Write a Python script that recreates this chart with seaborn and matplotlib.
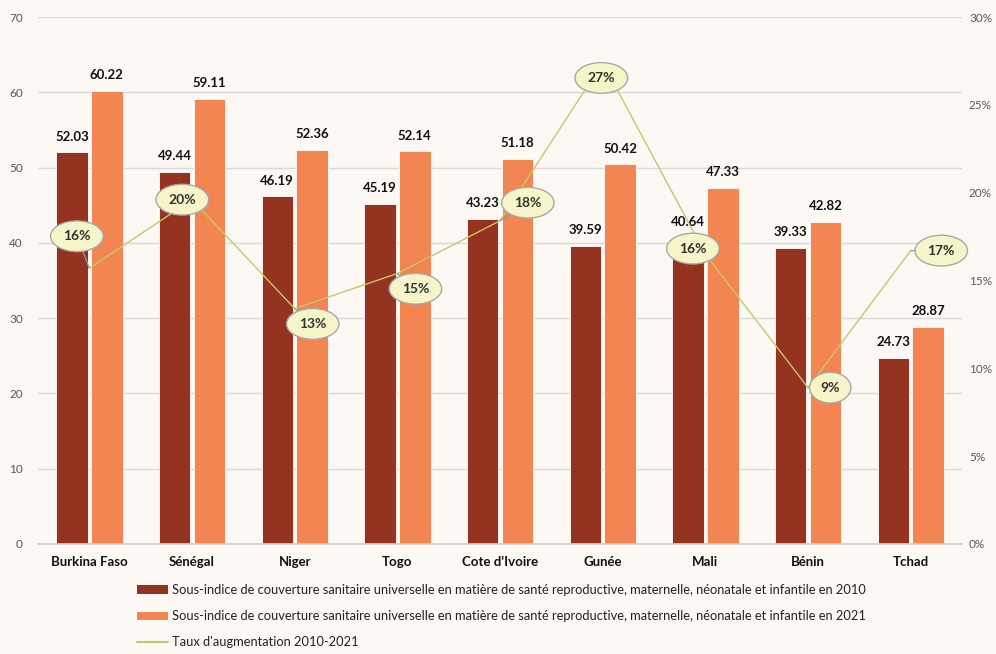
"""
Sous-indice de couverture sanitaire universelle (SRMNI), 2010 vs 2021,
avec le taux d'augmentation sur l'axe secondaire.
"""

import matplotlib
matplotlib.use("Agg")
import matplotlib.pyplot as plt
import numpy as np
import pandas as pd
import seaborn as sns
from matplotlib.lines import Line2D
from matplotlib.patches import Patch

COUNTRIES = ["Burkina Faso", "Sénégal", "Niger", "Togo", "Cote d'Ivoire",
             "Gunée", "Mali", "Bénin", "Tchad"]
VALUES_2010 = [52.03, 49.44, 46.19, 45.19, 43.23, 39.59, 40.64, 39.33, 24.73]
VALUES_2021 = [60.22, 59.11, 52.36, 52.14, 51.18, 50.42, 47.33, 42.82, 28.87]
GROWTH_PCT = [15.7, 19.6, 13.4, 15.4, 18.4, 27.4, 16.5, 8.9, 16.7]
GROWTH_LABELS = ["16%", "20%", "13%", "15%", "18%", "27%", "16%", "9%", "17%"]

LABEL_2010 = ("Sous-indice de couverture sanitaire universelle en matière de santé "
              "reproductive, maternelle, néonatale et infantile en 2010")
LABEL_2021 = ("Sous-indice de couverture sanitaire universelle en matière de santé "
              "reproductive, maternelle, néonatale et infantile en 2021")
LABEL_RATE = "Taux d'augmentation 2010-2021"

# callout offsets (points) of each percentage bubble from its line vertex
BUBBLE_OFFSETS = [(-9, 23), (-7, 0), (13, -11), (13, -11), (20, 13),
                  (-1, -11), (-9, 4), (16, 0), (22, 0)]

BG = "#FCF9F4"
DARK = "#943320"
ORANGE = "#F28552"
LINE = "#C9C66A"

sns.set_theme(style="white")
plt.rcParams["font.family"] = ["Lato", "DejaVu Sans"]

df = pd.DataFrame({
    "country": COUNTRIES * 2,
    "value": VALUES_2010 + VALUES_2021,
    "year": ["2010"] * len(COUNTRIES) + ["2021"] * len(COUNTRIES),
})

fig = plt.figure(figsize=(9.96, 6.54), dpi=100, facecolor=BG)
ax = fig.add_axes([0.0382, 0.1682, 0.9277, 0.8058])
ax.set_facecolor(BG)

sns.barplot(data=df, x="country", y="value", hue="year",
            palette=[DARK, ORANGE], saturation=1, width=0.68, gap=0.1,
            edgecolor="white", linewidth=0.6, legend=False, ax=ax)

for cont in ax.containers:
    ax.bar_label(cont, fmt="%.2f", padding=7, fontsize=9.5,
                 fontweight="bold", color="#111111")

ax.set_ylim(0, 70)
ax.set_yticks(range(0, 71, 10))
ax.set_xlim(-0.5, len(COUNTRIES) - 0.5)
ax.yaxis.grid(True, color="#D9D9D9", linewidth=1)
ax.set_axisbelow(True)
ax.set_xlabel("")
ax.set_ylabel("")
ax.tick_params(axis="y", labelsize=8.5, labelcolor="#595959", length=0, pad=11)
ax.tick_params(axis="x", labelsize=9.5, length=0, pad=9)
for lbl in ax.get_xticklabels():
    lbl.set_fontweight("bold")
    lbl.set_color("#111111")
for side in ["top", "left", "right"]:
    ax.spines[side].set_visible(False)
ax.spines["bottom"].set_color("#D0D0D0")

ax2 = ax.twinx()
x_pos = np.arange(len(COUNTRIES))
sns.lineplot(x=x_pos, y=GROWTH_PCT, color=LINE, linewidth=1, ax=ax2)
ax2.set_ylim(0, 30)
ax2.set_yticks(range(0, 31, 5))
ax2.set_yticklabels([f"{t}%" for t in range(0, 31, 5)])
ax2.set_xlim(-0.5, len(COUNTRIES) - 0.5)
ax2.tick_params(axis="y", labelsize=8.5, labelcolor="#595959", length=0, pad=5)
ax2.set_ylabel("")
for side in ["top", "left", "right", "bottom"]:
    ax2.spines[side].set_visible(False)

for xi, yi, txt, off in zip(x_pos, GROWTH_PCT, GROWTH_LABELS, BUBBLE_OFFSETS):
    ax2.annotate(txt, xy=(xi, yi), xytext=off, textcoords="offset points",
                 ha="center", va="center", fontsize=10, fontweight="bold",
                 color="#333333",
                 bbox=dict(boxstyle="ellipse,pad=0.35", fc="#F6F5C9",
                           ec="#A8A8A8", lw=1),
                 arrowprops=dict(arrowstyle="-", color="#8A9AA8", lw=0.9,
                                 shrinkA=0, shrinkB=0))

handles = [
    Patch(facecolor=DARK, edgecolor="none", label=LABEL_2010),
    Patch(facecolor=ORANGE, edgecolor="none", label=LABEL_2021),
    Line2D([0], [0], color=LINE, lw=1.5, label=LABEL_RATE),
]
fig.legend(handles=handles, loc="upper left", bbox_to_anchor=(0.138, 0.107),
           frameon=False, fontsize=9.3, labelcolor="#222222",
           handlelength=2.4, handleheight=0.6, handletextpad=0.3,
           labelspacing=1.1, borderaxespad=0, borderpad=0)

fig.savefig("out.png", dpi=100, facecolor=BG)
